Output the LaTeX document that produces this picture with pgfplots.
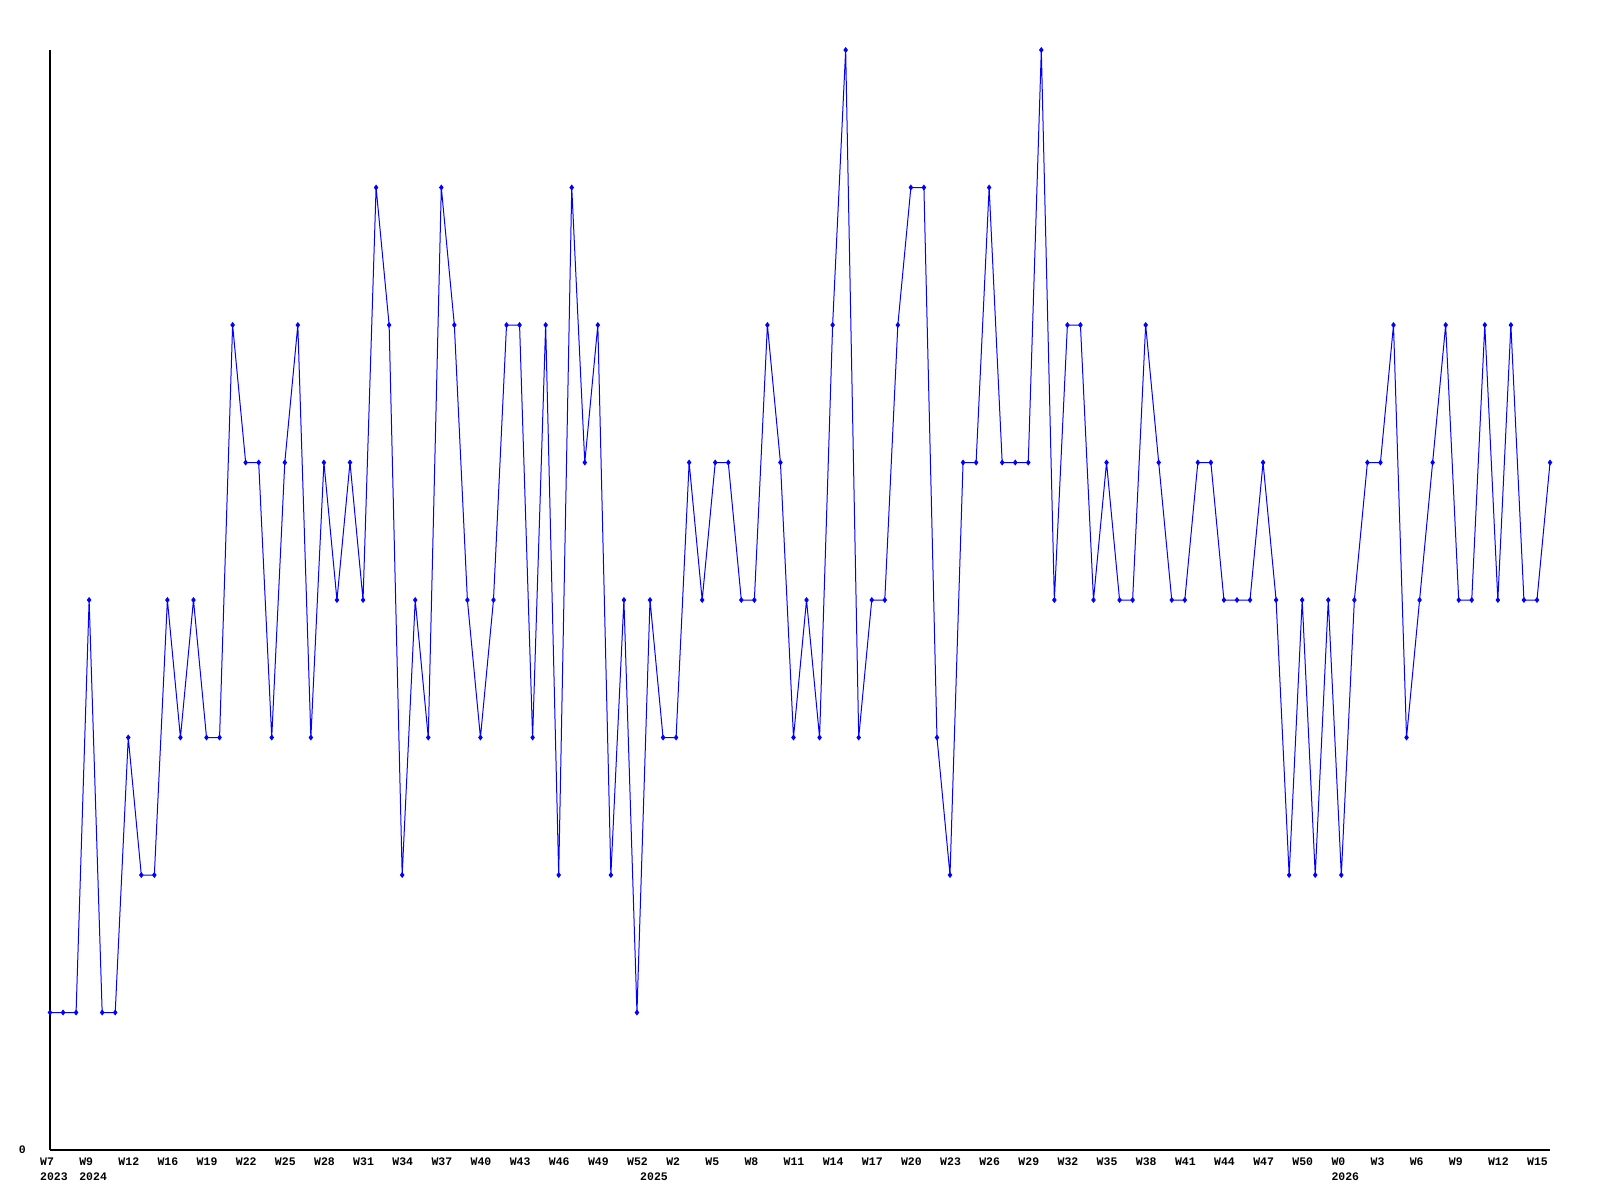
\documentclass[border=0pt]{standalone}
\usepackage{pgfplots}
\pgfplotsset{compat=1.18}
\usepackage{fontspec}
\newfontfamily\lblfont{Liberation Mono}[BoldFont={* Bold}]
\newcommand{\lbl}{\fontsize{11.5}{13}\selectfont\lblfont\bfseries}
\begin{document}
\begin{tikzpicture}[x=1pt,y=1pt]
\begin{axis}[
  at={(50pt,50pt)}, anchor=south west,
  scale only axis, width=1500pt, height=1100pt,
  xmin=0, xmax=115, ymin=0, ymax=8,
  axis lines=left,
  axis line style={-, line width=1.2pt, black},
  major tick length=0pt,
  xtick={0,3,...,114},
  xticklabels={W7,W9,W12,W16,W19,W22,W25,W28,W31,W34,W37,W40,W43,W46,W49,W52,W2,W5,W8,W11,W14,W17,W20,W23,W26,W29,W32,W35,W38,W41,W44,W47,W50,W0,W3,W6,W9,W12,W15},
  xticklabel style={font=\lbl, anchor=north west, inner sep=0pt, xshift=-10pt, yshift=-8pt},
  ytick={0},
  yticklabels={0},
  yticklabel style={font=\lbl, anchor=east, inner sep=0pt, xshift=-24pt},
  clip=false,
]
\addplot[color={rgb,255:red,0;green,0;blue,255}, line width=1pt, mark=diamond*, mark size=2.2pt, mark options={solid}] coordinates {
(0,1)(1,1)(2,1)(3,4)(4,1)(5,1)(6,3)(7,2)(8,2)(9,4)
(10,3)(11,4)(12,3)(13,3)(14,6)(15,5)(16,5)(17,3)(18,5)(19,6)
(20,3)(21,5)(22,4)(23,5)(24,4)(25,7)(26,6)(27,2)(28,4)(29,3)
(30,7)(31,6)(32,4)(33,3)(34,4)(35,6)(36,6)(37,3)(38,6)(39,2)
(40,7)(41,5)(42,6)(43,2)(44,4)(45,1)(46,4)(47,3)(48,3)(49,5)
(50,4)(51,5)(52,5)(53,4)(54,4)(55,6)(56,5)(57,3)(58,4)(59,3)
(60,6)(61,8)(62,3)(63,4)(64,4)(65,6)(66,7)(67,7)(68,3)(69,2)
(70,5)(71,5)(72,7)(73,5)(74,5)(75,5)(76,8)(77,4)(78,6)(79,6)
(80,4)(81,5)(82,4)(83,4)(84,6)(85,5)(86,4)(87,4)(88,5)(89,5)
(90,4)(91,4)(92,4)(93,5)(94,4)(95,2)(96,4)(97,2)(98,4)(99,2)
(100,4)(101,5)(102,5)(103,6)(104,3)(105,4)(106,5)(107,6)(108,4)(109,4)
(110,6)(111,4)(112,6)(113,4)(114,4)(115,5)
};
\node[font=\lbl, anchor=north west, inner sep=0pt, xshift=-10pt, yshift=-23pt] at (axis cs:0,0) {2023};
\node[font=\lbl, anchor=north west, inner sep=0pt, xshift=-10pt, yshift=-23pt] at (axis cs:3,0) {2024};
\node[font=\lbl, anchor=north west, inner sep=0pt, xshift=-10pt, yshift=-23pt] at (axis cs:46,0) {2025};
\node[font=\lbl, anchor=north west, inner sep=0pt, xshift=-10pt, yshift=-23pt] at (axis cs:99,0) {2026};
\end{axis}
\pgfresetboundingbox
\path[use as bounding box] (0,0) rectangle (1600pt,1200pt);
\end{tikzpicture}
\end{document}
